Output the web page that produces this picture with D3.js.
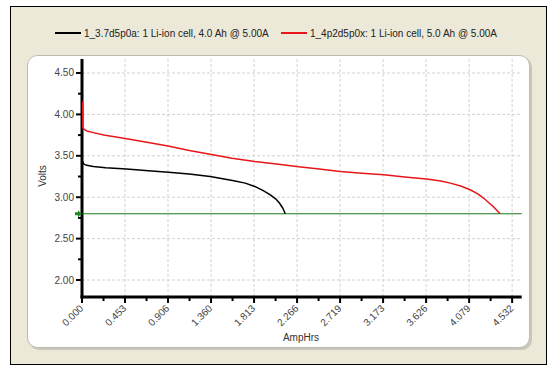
<!DOCTYPE html>
<html>
<head>
<meta charset="utf-8">
<script src="https://cdn.jsdelivr.net/npm/d3@7"></script>
<style>
  body { margin: 0; background: #fff; }
  svg { display: block; font-family: "Liberation Sans", Arial, sans-serif; }
</style>
</head>
<body>
<svg id="chart" width="553" height="375"></svg>
<script>
// series names
const seriesNames = [
    '1_3.7d5p0a: 1 Li-ion cell, 4.0 Ah @ 5.00A',
    '1_4p2d5p0x: 1 Li-ion cell, 5.0 Ah @ 5.00A'
];
const seriesColors = ['#000000', '#e8161b'];

// 4.0 Ah cell: [AmpHrs, Volts]
const cellA = [
    [0.006, 3.43], [0.020, 3.40], [0.050, 3.385], [0.120, 3.37], [0.250, 3.355],
    [0.470, 3.34], [0.700, 3.32], [0.910, 3.30], [1.130, 3.28], [1.350, 3.25],
    [1.600, 3.20], [1.720, 3.17], [1.820, 3.13], [1.910, 3.08], [1.980, 3.03],
    [2.040, 2.98], [2.080, 2.93], [2.115, 2.87], [2.142, 2.80]
];
// 5.0 Ah cell
const cellB = [
    [0.008, 4.16], [0.008, 3.85], [0.012, 3.83], [0.025, 3.82], [0.050, 3.80],
    [0.120, 3.78], [0.230, 3.75], [0.470, 3.705], [0.700, 3.66], [0.920, 3.615],
    [1.130, 3.565], [1.350, 3.52], [1.580, 3.47], [1.820, 3.43], [2.050, 3.40],
    [2.260, 3.37], [2.500, 3.34], [2.720, 3.31], [2.950, 3.29], [3.180, 3.27],
    [3.400, 3.245], [3.630, 3.22], [3.780, 3.195], [3.880, 3.17], [3.990, 3.135],
    [4.090, 3.09], [4.170, 3.04], [4.230, 2.99], [4.290, 2.93], [4.340, 2.88],
    [4.405, 2.80]
];
const cutoffVolts = 2.8;

const xTicks = [0, 0.45322, 0.90644, 1.35966, 1.81288, 2.2661, 2.71932, 3.17254, 3.62576, 4.07898, 4.5322];
const xTickLabels = ['0.000', '0.453', '0.906', '1.360', '1.813', '2.266', '2.719', '3.173', '3.626', '4.079', '4.532'];
const yTicks = [2.0, 2.5, 3.0, 3.5, 4.0, 4.5];
const yTickLabels = ['2.00', '2.50', '3.00', '3.50', '4.00', '4.50'];

const svg = d3.select('#chart');

// outer frame
svg.append('rect')
    .attr('x', 10.5).attr('y', 6.5)
    .attr('width', 536).attr('height', 358)
    .attr('fill', '#ece9d8')
    .attr('stroke', '#000');

// inner panel with shadow
svg.append('rect')
    .attr('x', 29).attr('y', 57)
    .attr('width', 503).attr('height', 293)
    .attr('rx', 10)
    .attr('fill', '#c9c7b9');
svg.append('rect')
    .attr('x', 27.5).attr('y', 55.5)
    .attr('width', 502).attr('height', 292)
    .attr('rx', 10)
    .attr('fill', '#fff')
    .attr('stroke', '#bdbbb0');

const MARGINS = { left: 82, right: 521.7, top: 59, bottom: 297 };

const xScale = d3.scaleLinear()
    .domain([0, 4.633])
    .range([MARGINS.left, MARGINS.right]);
const yScale = d3.scaleLinear()
    .domain([1.795, 4.669])
    .range([MARGINS.bottom, MARGINS.top]);

// grid
svg.append('g').selectAll('line')
    .data(xTicks.slice(1))
    .join('line')
        .attr('x1', d => xScale(d)).attr('x2', d => xScale(d))
        .attr('y1', MARGINS.top).attr('y2', MARGINS.bottom)
        .attr('stroke', '#d2d2d2')
        .attr('stroke-dasharray', '3,2');
svg.append('g').selectAll('line')
    .data(yTicks)
    .join('line')
        .attr('x1', MARGINS.left).attr('x2', MARGINS.right)
        .attr('y1', d => yScale(d)).attr('y2', d => yScale(d))
        .attr('stroke', '#d2d2d2')
        .attr('stroke-dasharray', '3,2');

// Y axis
const yMinor = d3.range(2.25, 4.7, 0.5);
svg.append('g').selectAll('line')
    .data(yMinor)
    .join('line')
        .attr('x1', MARGINS.left - 4).attr('x2', MARGINS.left)
        .attr('y1', d => yScale(d)).attr('y2', d => yScale(d))
        .attr('stroke', '#000').attr('stroke-width', 2);
svg.append('g').selectAll('line')
    .data(yTicks)
    .join('line')
        .attr('x1', MARGINS.left - 6).attr('x2', MARGINS.left)
        .attr('y1', d => yScale(d)).attr('y2', d => yScale(d))
        .attr('stroke', '#000').attr('stroke-width', 2);
svg.append('g').selectAll('text')
    .data(yTicks)
    .join('text')
        .text((d, i) => yTickLabels[i])
        .attr('x', MARGINS.left - 8)
        .attr('y', d => yScale(d))
        .attr('dy', '0.35em')
        .attr('text-anchor', 'end')
        .attr('font-size', '10px')
        .attr('fill', '#444');
svg.append('line')
    .attr('x1', MARGINS.left).attr('x2', MARGINS.left)
    .attr('y1', MARGINS.top).attr('y2', MARGINS.bottom + 1.5)
    .attr('stroke', '#000').attr('stroke-width', 3);

// X axis
const xMinor = xTicks.slice(0, -1).map((d, i) => (d + xTicks[i + 1]) / 2);
svg.append('g').selectAll('line')
    .data(xMinor)
    .join('line')
        .attr('x1', d => xScale(d)).attr('x2', d => xScale(d))
        .attr('y1', MARGINS.bottom).attr('y2', MARGINS.bottom + 4)
        .attr('stroke', '#000').attr('stroke-width', 2);
svg.append('g').selectAll('line')
    .data(xTicks)
    .join('line')
        .attr('x1', d => xScale(d)).attr('x2', d => xScale(d))
        .attr('y1', MARGINS.bottom).attr('y2', MARGINS.bottom + 6)
        .attr('stroke', '#000').attr('stroke-width', 2);
svg.append('g').selectAll('text')
    .data(xTicks)
    .join('text')
        .text((d, i) => xTickLabels[i])
        .attr('transform', d => `translate(${xScale(d) + 2}, ${MARGINS.bottom + 12}) rotate(-45)`)
        .attr('text-anchor', 'end')
        .attr('font-size', '10px')
        .attr('fill', '#444');
svg.append('line')
    .attr('x1', MARGINS.left - 1.5).attr('x2', MARGINS.right)
    .attr('y1', MARGINS.bottom).attr('y2', MARGINS.bottom)
    .attr('stroke', '#000').attr('stroke-width', 3);

// cutoff line + marker
const cy = yScale(cutoffVolts);
svg.append('line')
    .attr('x1', MARGINS.left).attr('x2', MARGINS.right)
    .attr('y1', cy).attr('y2', cy)
    .attr('stroke', '#1a7a1a')
    .attr('stroke-width', 1.2);
svg.append('path')
    .attr('d', `M75,${cy - 1.5} L78,${cy - 1.5} L78,${cy - 3.5} L81.5,${cy} L78,${cy + 3.5} L78,${cy + 1.5} L75,${cy + 1.5} Z`)
    .attr('fill', '#1a8a1a');

// series
const line = d3.line()
    .x(d => xScale(d[0]))
    .y(d => yScale(d[1]));
[cellA, cellB].forEach((data, i) => {
    svg.append('path')
        .datum(data)
        .attr('d', line)
        .attr('fill', 'none')
        .attr('stroke', seriesColors[i])
        .attr('stroke-width', 1.5)
        .attr('stroke-linejoin', 'round');
});

// axis titles
svg.append('text')
    .text('AmpHrs')
    .attr('x', 301).attr('y', 341)
    .attr('text-anchor', 'middle')
    .attr('font-size', '10px')
    .attr('fill', '#333');
svg.append('text')
    .text('Volts')
    .attr('transform', 'translate(46, 176) rotate(-90)')
    .attr('text-anchor', 'middle')
    .attr('font-size', '10px')
    .attr('fill', '#333');

// legend
const legendX = [55, 281];
const gLegend = svg.append('g');
seriesNames.forEach((name, i) => {
    gLegend.append('line')
        .attr('x1', legendX[i]).attr('x2', legendX[i] + 26)
        .attr('y1', 33).attr('y2', 33)
        .attr('stroke', seriesColors[i])
        .attr('stroke-width', 2);
    gLegend.append('text')
        .text(name)
        .attr('x', legendX[i] + 29)
        .attr('y', 33)
        .attr('dy', '0.35em')
        .attr('font-size', '10px')
        .attr('fill', '#222');
});
</script>
</body>
</html>
